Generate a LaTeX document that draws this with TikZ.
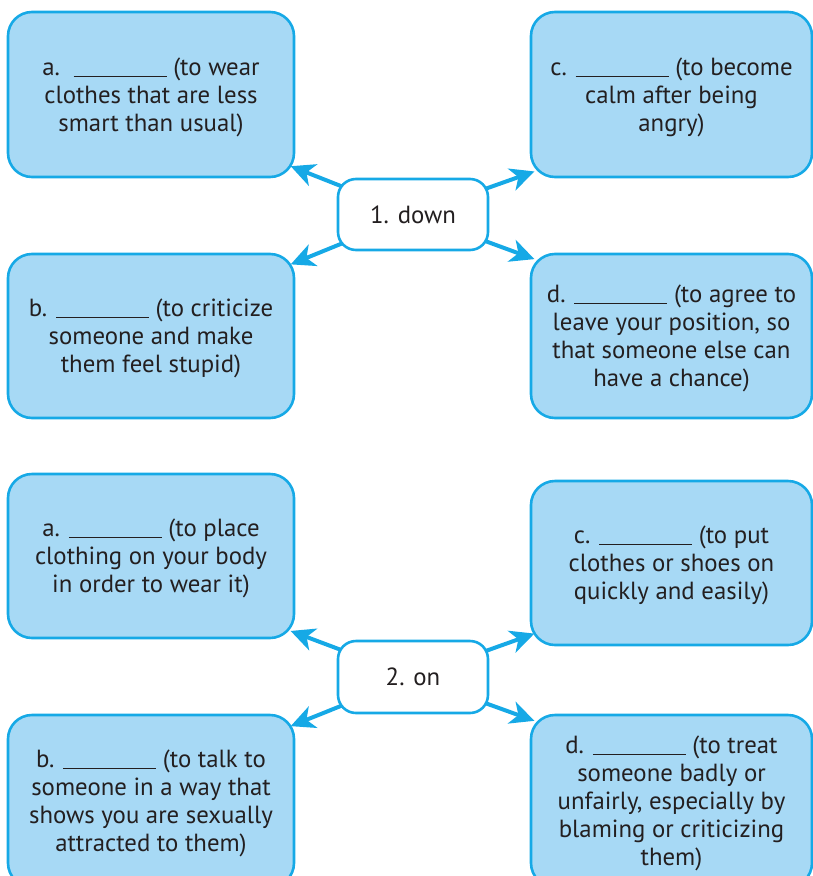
\documentclass[tikz,border=0pt]{standalone}
\usepackage{fontspec}
\setmainfont{PT Sans}
\usetikzlibrary{arrows.meta,backgrounds}
\definecolor{boxfill}{HTML}{A7D9F5}
\definecolor{boxline}{HTML}{16A9E6}
\definecolor{ink}{HTML}{231F20}
% answer blank
\newcommand{\fillin}{\rule[-1.6pt]{93pt}{1.3pt}}

\begin{document}
\begin{tikzpicture}[x=1pt,y=-1pt,
  defbox/.style={draw=boxline, line width=2.6pt, fill=boxfill, rounded corners=24pt,
    inner sep=0pt, align=center, text=ink, text depth=0pt,
    font=\fontsize{24.8}{28}\selectfont},
  hub/.style={draw=boxline, line width=2.6pt, fill=white, rounded corners=18pt,
    minimum width=150pt, minimum height=71pt, text=ink, text depth=0pt,
    font=\fontsize{24.8}{28}\selectfont},
  link/.style={draw=boxline, line width=4pt,
    -{Stealth[length=24pt,width=23pt,inset=7pt]}, shorten >=-5pt}]
\useasboundingbox (0,0) rectangle (813,876);
\clip (0,0) rectangle (813,876);

% group 1: down
\node[defbox, minimum width=286pt, minimum height=165pt] (p1a) at (151,94.5)
  {a.\hspace{0.55em}\fillin{} (to wear\\clothes that are less\\smart than usual)};
\node[defbox, minimum width=281pt, minimum height=165pt] (p1c) at (671.5,94.5)
  {c. \fillin{} (to become\\calm after being\\angry)};
\node[defbox, minimum width=286pt, minimum height=164pt] (p1b) at (151,336)
  {b. \fillin{} (to criticize\\someone and make\\them feel stupid)};
\node[defbox, minimum width=281pt, minimum height=164pt] (p1d) at (671.5,336)
  {d. \fillin{} (to agree to\\leave your position, so\\that someone else can\\have a chance)};
\node[hub] (hub1) at (413,214.5) {1. down};

% group 2: on
\node[defbox, minimum width=286pt, minimum height=164pt] (p2a) at (151,556)
  {a. \fillin{} (to place\\clothing on your body\\in order to wear it)};
\node[defbox, minimum width=281pt, minimum height=164pt] (p2c) at (671.5,563)
  {c. \fillin{} (to put\\clothes or shoes on\\quickly and easily)};
\node[defbox, minimum width=286pt, minimum height=172pt] (p2b) at (151,801)
  {b. \fillin{} (to talk to\\someone in a way that\\shows you are sexually\\attracted to them)};
\node[defbox, minimum width=281pt, minimum height=172pt] (p2d) at (671.5,801)
  {d. \fillin{} (to treat\\someone badly or\\unfairly, especially by\\blaming or criticizing\\them)};
\node[hub, minimum height=72pt] (hub2) at (413,677) {2. on};

% connectors run behind the white hubs
\begin{scope}[on background layer]
  \draw[link] (hub1.center) -- (p1a.-27.8);
  \draw[link] (hub1.center) -- (p1c.-151.7);
  \draw[link] (hub1.center) -- (p1b.27.7);
  \draw[link] (hub1.center) -- (p1d.151.8);
  \draw[link] (hub2.center) -- (p2a.-28.1);
  \draw[link] (hub2.center) -- (p2c.-153.7);
  \draw[link] (hub2.center) -- (p2b.28.7);
  \draw[link] (hub2.center) -- (p2d.150.9);
\end{scope}
\end{tikzpicture}
\end{document}
